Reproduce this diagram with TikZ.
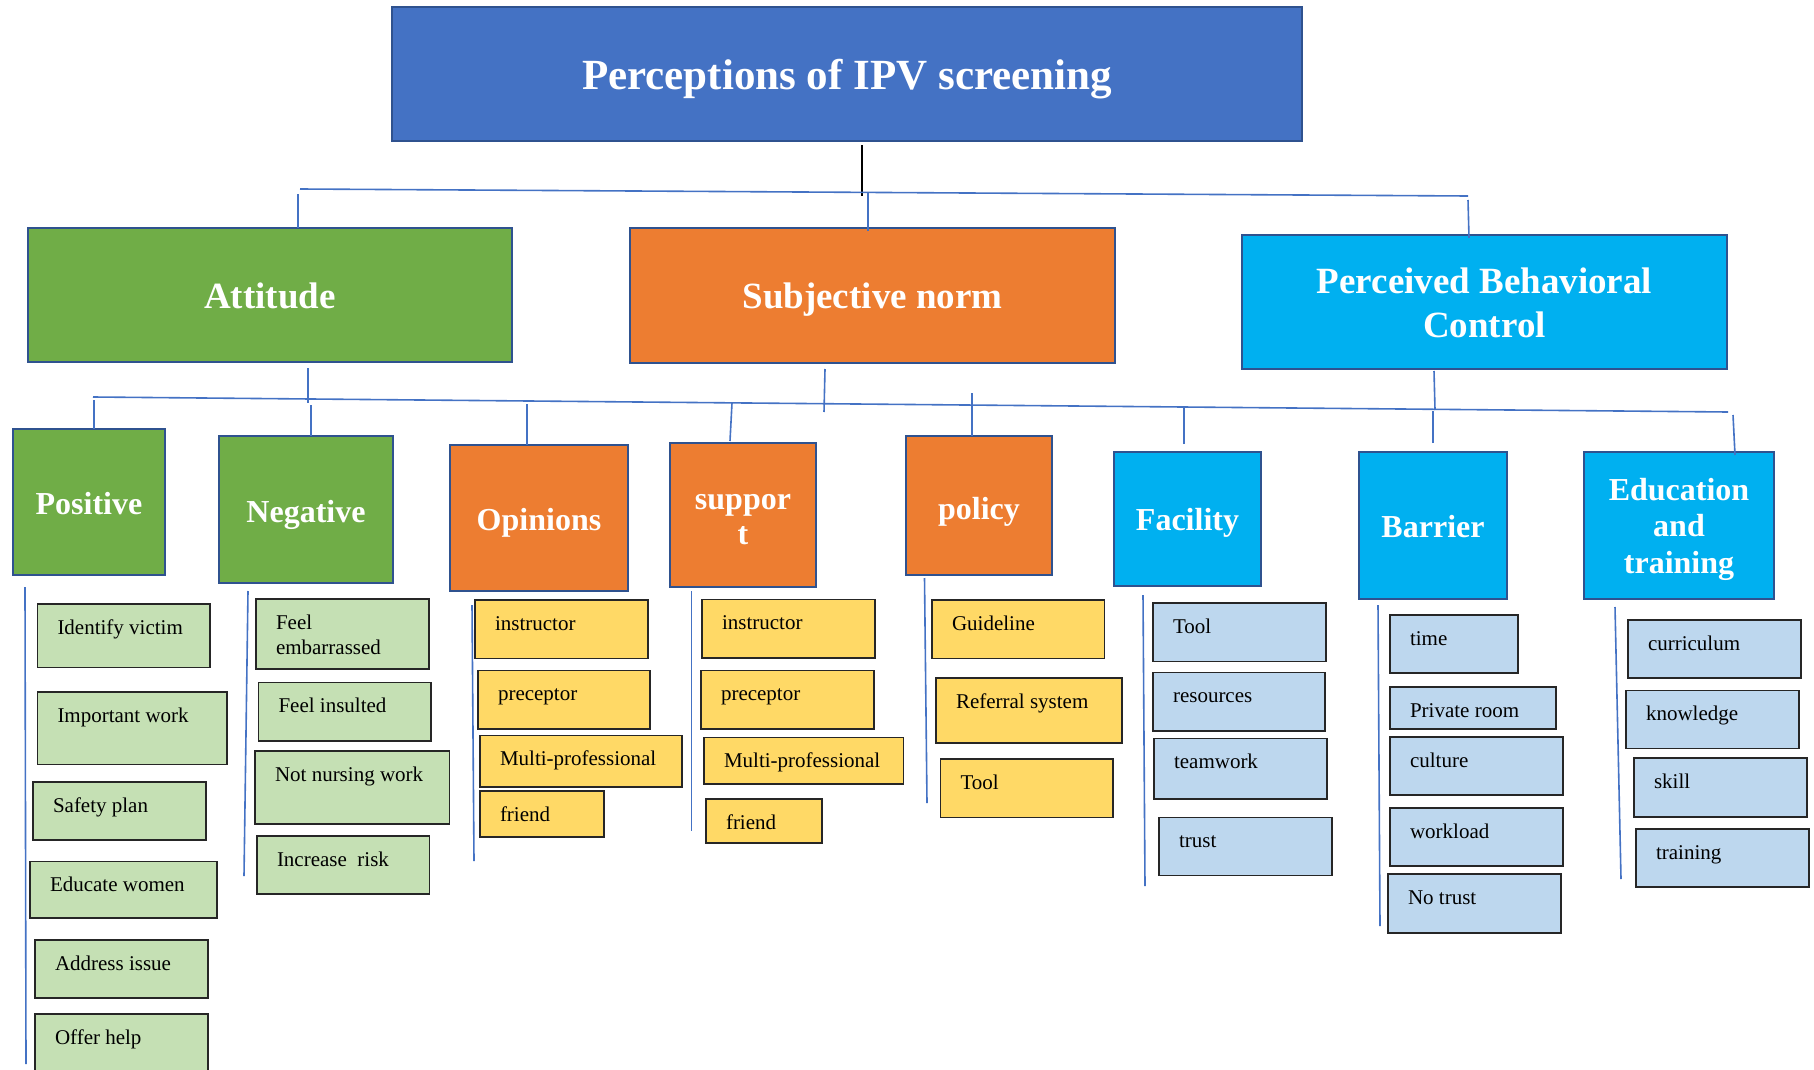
\documentclass[tikz,border=0pt]{standalone}
\usepackage{fontspec}
\setmainfont{Liberation Serif}

\definecolor{framecol}{HTML}{2F528F}
\definecolor{linkcol}{HTML}{4472C4}
\definecolor{titlecol}{HTML}{4472C4}
\definecolor{attgreen}{HTML}{70AD47}
\definecolor{normorange}{HTML}{ED7D31}
\definecolor{pbccyan}{HTML}{00B0F0}
\definecolor{leafgreen}{HTML}{C5E0B4}
\definecolor{leafyellow}{HTML}{FFD966}
\definecolor{leafblue}{HTML}{BDD7EE}

% leaf box: name, fill colour, x1, y1, x2, y2 (top-left / bottom-right), text
\newcommand\leafitem[7]{%
  \node[leafbox,fill=#2,minimum width={#5-#3},minimum height={#6-#4},anchor=north west] (#1) at (#3,#4) {};
  \node[leaftext] (#1-t) at ([xshift=20pt,yshift=-30pt]#1.north west) {#7};
}
% centred stacked lines for the heading boxes
\newcommand\stack[1]{\begin{tabular}[t]{@{}c@{}}#1\end{tabular}}

\begin{document}
\begin{tikzpicture}[x=1pt,y=-1pt,
  every node/.style={inner sep=0pt,outer sep=0pt},
  topbox/.style={draw=framecol,line width=2.5pt,fill=titlecol},
  lvtwo/.style={draw=framecol,line width=2.5pt},
  lvthree/.style={draw=framecol,line width=2.8pt},
  toptext/.style={anchor=base,text=white,font=\fontsize{43}{48}\selectfont\bfseries},
  twotext/.style={anchor=base,text=white,font=\fontsize{37}{44}\selectfont\bfseries},
  threetext/.style={anchor=base,text=white,font=\fontsize{32}{36.3}\selectfont\bfseries},
  leafbox/.style={draw=black!85,line width=1.5pt},
  leaftext/.style={anchor=base west,font=\fontsize{21}{25}\selectfont},
  link/.style={draw=linkcol,line width=1.6pt},
  stem/.style={draw=black,line width=1.8pt}]

\useasboundingbox (0,0) rectangle (1814,1070);
\clip (0,0) rectangle (1814,1070);

% ---- top level ----
\node[topbox,minimum width=910,minimum height=134] (title) at (847,74) {};
\node[toptext] (title-l) at (847,90) {Perceptions of IPV screening};

% ---- constructs ----
\node[lvtwo,fill=attgreen,minimum width=484,minimum height=134] (att) at (270,295) {};
\node[lvtwo,fill=normorange,minimum width=485,minimum height=135] (sn) at (872.5,295.5) {};
\node[lvtwo,fill=pbccyan,minimum width=485,minimum height=134] (pbc) at (1484.5,302) {};
\node[twotext] (att-l) at (270,308) {Attitude};
\node[twotext] (sn-l) at (872.5,308) {Subjective norm};
\node[twotext] (pbc-l) at (1484.5,293) {\stack{Perceived Behavioral\\Control}};

% ---- themes ----
\node[lvthree,fill=attgreen,minimum width=152,minimum height=146] (pos) at (89,502) {};
\node[lvthree,fill=attgreen,minimum width=174,minimum height=147] (neg) at (306,509.5) {};
\node[lvthree,fill=normorange,minimum width=178,minimum height=146] (opi) at (539,518) {};
\node[lvthree,fill=normorange,minimum width=146,minimum height=144] (sup) at (743,515) {};
\node[lvthree,fill=normorange,minimum width=146,minimum height=139] (pol) at (979,505.5) {};
\node[lvthree,fill=pbccyan,minimum width=147,minimum height=134] (fac) at (1187.5,519) {};
\node[lvthree,fill=pbccyan,minimum width=148,minimum height=147] (bar) at (1433,525.5) {};
\node[lvthree,fill=pbccyan,minimum width=190,minimum height=147] (edu) at (1679,525.5) {};
\node[threetext] (pos-l) at (89,514.5) {Positive};
\node[threetext] (neg-l) at (306,522) {Negative};
\node[threetext] (opi-l) at (539,530) {Opinions};
\node[threetext,font=\fontsize{32}{35}\selectfont\bfseries] (sup-l) at (743,509) {\stack{suppor\\t}};
\node[threetext] (pol-l) at (979,519.5) {policy};
\node[threetext] (fac-l) at (1187.5,530) {Facility};
\node[threetext] (bar-l) at (1433,537.5) {Barrier};
\node[threetext] (edu-l) at (1679,500.5) {\stack{Education\\and\\training}};

% ---- tree connectors ----
\draw[stem] ([xshift=15pt,yshift=-4pt]title.south) -- ++(0,51);
\coordinate (busAL) at (300,189);
\coordinate (busAR) at (1468,196);
\draw[link] (busAL) -- (busAR);
\draw[link] ([xshift=28pt]att.north) -- ++(0,-34);
\draw[link] ([xshift=-4.5pt,yshift=-3pt]sn.north) -- ++(0,-38);
\draw[link] ([xshift=-15.5pt,yshift=-3pt]pbc.north) -- ++(-1,-38);

\draw[link] ([xshift=38pt,yshift=-6pt]att.south) -- ++(0,35);
\draw[link] ([xshift=-47.5pt,yshift=-6pt]sn.south) -- ++(-1,43);
\draw[link] ([xshift=-50.5pt,yshift=-2pt]pbc.south) -- ++(1,39);
\coordinate (busBL) at (93,397);
\coordinate (busBR) at (1728,412);
\draw[link] (busBL) -- (busBR);

\draw[link] ([xshift=5pt]pos.north) -- ++(0,-29);
\draw[link] ([xshift=5pt]neg.north) -- ++(0,-31);
\draw[link] ([xshift=-12pt]opi.north) -- ++(0,-41);
\draw[link] ([xshift=-13pt,yshift=2pt]sup.north) -- ++(2,-38);
\draw[link] ([xshift=-7pt]pol.north) -- ++(0,-43);
\draw[link] ([xshift=-3.5pt,yshift=8pt]fac.north) -- ++(0,-38);
\draw[link] ([yshift=9pt]bar.north) -- ++(0,-32);
\draw[link] ([xshift=56pt,yshift=-3pt]edu.north) -- ++(-2,-40);

% ---- column rules beside the item lists ----
\draw[link] ([xshift=-64pt,yshift=-12pt]pos.south) -- ++(1,477);
\draw[link] ([xshift=-58pt,yshift=-8pt]neg.south) -- ++(-4,285);
\draw[link] ([xshift=-67pt,yshift=-14pt]opi.south) -- ++(2,256);
\draw[link] ([xshift=-51.5pt,yshift=-4pt]sup.south) -- ++(0,240);
\draw[link] ([xshift=-54.5pt,yshift=-3pt]pol.south) -- ++(2.5,225);
\draw[link] ([xshift=-44.5pt,yshift=-9pt]fac.south) -- ++(2,291);
\draw[link] ([xshift=-55pt,yshift=-6pt]bar.south) -- ++(2,321);
\draw[link] ([xshift=-64pt,yshift=-8pt]edu.south) -- ++(6,272);

% ---- Positive ----
\leafitem{p1}{leafgreen}{37.5}{604}{210}{667.5}{Identify victim}
\leafitem{p2}{leafgreen}{37.5}{692}{227}{764.5}{Important work}
\leafitem{p3}{leafgreen}{33}{782}{206}{840}{Safety plan}
\leafitem{p4}{leafgreen}{30}{861.5}{217}{918}{Educate women}
\leafitem{p5}{leafgreen}{35}{940}{208}{998}{Address issue}
\leafitem{p6}{leafgreen}{35}{1014}{208}{1085}{Offer help}

% ---- Negative ----
\leafitem{n1}{leafgreen}{256}{599}{429}{669}{\begin{tabular}[t]{@{}l@{}}Feel\\embarrassed\end{tabular}}
\leafitem{n2}{leafgreen}{258.5}{682.5}{431}{741}{Feel insulted}
\leafitem{n3}{leafgreen}{255}{751}{449.5}{824}{Not nursing work}
\leafitem{n4}{leafgreen}{257}{836}{429.5}{894}{Increase\ \ risk}

% ---- Opinions ----
\leafitem{o1}{leafyellow}{475}{600}{648}{658.5}{instructor}
\leafitem{o2}{leafyellow}{478}{670.5}{650}{729}{preceptor}
\leafitem{o3}{leafyellow}{480}{735.5}{682}{787}{Multi-professional}
\leafitem{o4}{leafyellow}{480}{791}{604}{837}{friend}

% ---- support ----
\leafitem{s1}{leafyellow}{702}{599.5}{875}{658}{instructor}
\leafitem{s2}{leafyellow}{701}{670.5}{874}{729}{preceptor}
\leafitem{s3}{leafyellow}{704}{737.5}{903.5}{784}{Multi-professional}
\leafitem{s4}{leafyellow}{706}{799}{822}{843}{friend}

% ---- policy ----
\leafitem{y1}{leafyellow}{932}{600}{1104.5}{658.5}{Guideline}
\leafitem{y2}{leafyellow}{936}{678}{1122}{743}{Referral system}
\leafitem{y3}{leafyellow}{940.5}{759}{1113}{817.5}{Tool}

% ---- Facility ----
\leafitem{f1}{leafblue}{1153}{603}{1326}{661.5}{Tool}
\leafitem{f2}{leafblue}{1153}{672.5}{1325}{731}{resources}
\leafitem{f3}{leafblue}{1154}{738.5}{1327}{799}{teamwork}
\leafitem{f4}{leafblue}{1159}{817.5}{1332}{875.5}{trust}

% ---- Barrier ----
\leafitem{b1}{leafblue}{1390}{615}{1518}{673}{time}
\leafitem{b2}{leafblue}{1390}{687}{1556}{729}{Private room}
\leafitem{b3}{leafblue}{1390}{737}{1563}{795}{culture}
\leafitem{b4}{leafblue}{1390}{808}{1563}{866}{workload}
\leafitem{b5}{leafblue}{1388}{874}{1561}{933}{No trust}

% ---- Education and training ----
\leafitem{e1}{leafblue}{1628}{620}{1801}{678}{curriculum}
\leafitem{e2}{leafblue}{1626}{690.5}{1799}{748.5}{knowledge}
\leafitem{e3}{leafblue}{1634}{758}{1807}{817}{skill}
\leafitem{e4}{leafblue}{1636}{829}{1809}{887}{training}

\end{tikzpicture}
\end{document}
